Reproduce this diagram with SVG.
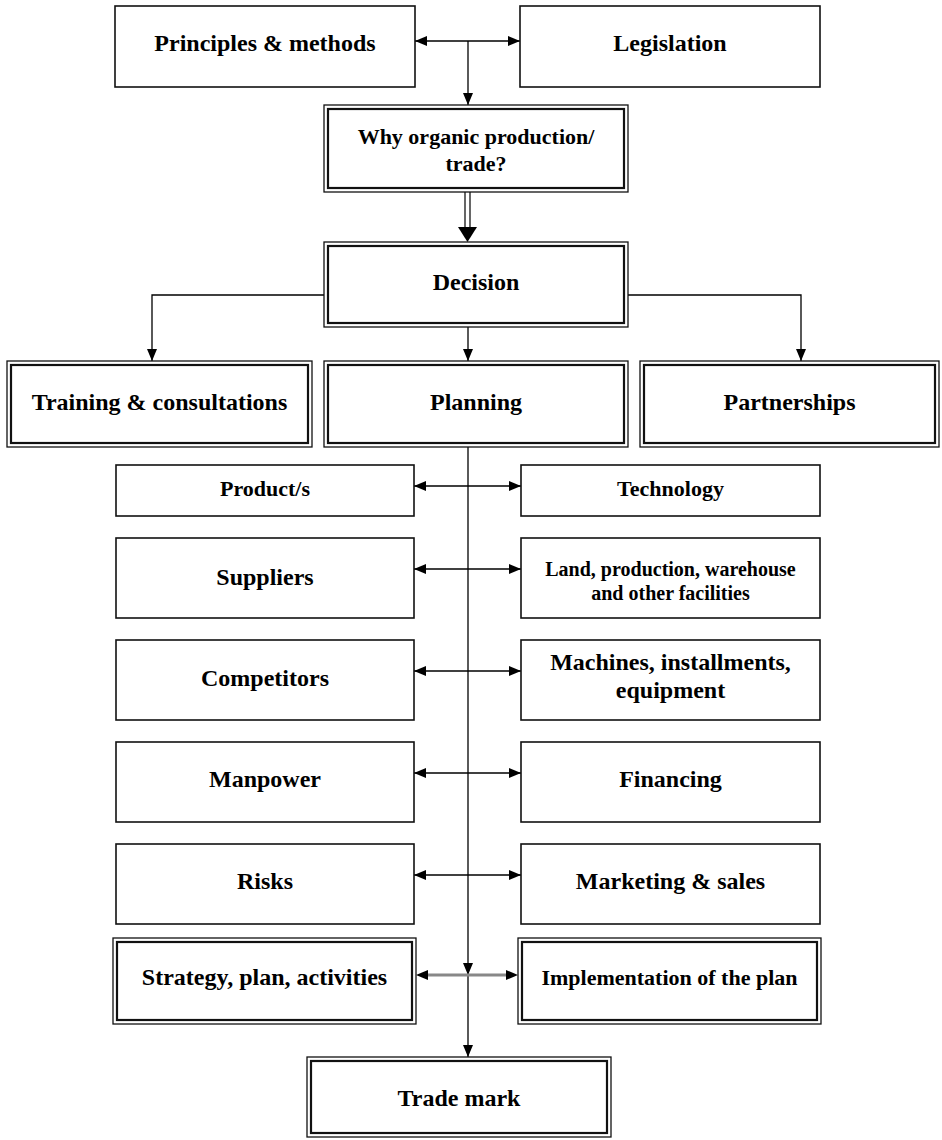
<svg xmlns="http://www.w3.org/2000/svg" width="942" height="1140" viewBox="0 0 942 1140">
<style>
  .box{fill:#fff;stroke:#111;stroke-width:1.6}
  .outer{fill:#fff;stroke:#111;stroke-width:1.3}
  .inner{fill:none;stroke:#111;stroke-width:2.2}
  .t{font-family:"Liberation Serif","Times New Roman",serif;font-weight:bold;text-anchor:middle;fill:#000}
  .l{font-size:24px}
  .m{font-size:22px}
  .s{font-size:20px}
  .c{fill:none;stroke:#000;stroke-width:1.3}
  .c2{fill:none;stroke:#000;stroke-width:1.3;marker-end:url(#ah)}
  .bi{fill:none;stroke:#000;stroke-width:1.3;marker-start:url(#ah);marker-end:url(#ah)}
</style>
<defs>
  <marker id="ah" markerUnits="userSpaceOnUse" markerWidth="12" markerHeight="10" refX="12" refY="5" orient="auto-start-reverse">
    <path d="M0,0 L12,5 L0,10 z" fill="#000"/>
  </marker>
</defs>
<rect width="942" height="1140" fill="#fff"/>

<g id="connectors">
  <path class="bi" d="M415,41 H520"/>
  <path class="c2" d="M468,41 V105"/>
  <line x1="465" y1="192" x2="465" y2="228" stroke="#000" stroke-width="1.2"/>
  <line x1="470" y1="192" x2="470" y2="228" stroke="#000" stroke-width="1.2"/>
  <polygon points="458,227 477,227 467.5,242" fill="#000"/>
  <path class="c2" d="M324,295 H152 V361"/>
  <path class="c2" d="M628,295 H801 V361"/>
  <path class="c2" d="M468,327 V361"/>
  <path class="c2" d="M468,447 V975"/>
  <path class="c2" d="M468,975 V1057"/>
  <path class="bi" d="M414,486 H521"/>
  <path class="bi" d="M414,569 H521"/>
  <path class="bi" d="M414,671 H521"/>
  <path class="bi" d="M414,773 H521"/>
  <path class="bi" d="M414,875 H521"/>
  <line x1="426" y1="975" x2="508" y2="975" stroke="#888" stroke-width="3"/>
  <polygon points="416,975 428,970 428,980" fill="#000"/>
  <polygon points="518,975 506,970 506,980" fill="#000"/>
</g>

<g id="principles">
  <rect class="box" x="115" y="6" width="300" height="81"/>
  <text class="t l" x="265" y="51">Principles &amp; methods</text>
</g>
<g id="legislation">
  <rect class="box" x="520" y="6" width="300" height="81"/>
  <text class="t l" x="670" y="51">Legislation</text>
</g>
<g id="why">
  <rect class="outer" x="324" y="105" width="304" height="87"/>
  <rect class="inner" x="328" y="109" width="296" height="79"/>
  <text class="t m" x="476" y="144">Why organic production/</text>
  <text class="t m" x="476" y="171">trade?</text>
</g>
<g id="decision">
  <rect class="outer" x="324" y="242" width="304" height="85"/>
  <rect class="inner" x="328" y="246" width="296" height="77"/>
  <text class="t l" x="476" y="290">Decision</text>
</g>
<g id="training">
  <rect class="outer" x="7" y="361" width="305" height="86"/>
  <rect class="inner" x="11" y="365" width="297" height="78"/>
  <text class="t l" x="159.5" y="410">Training &amp; consultations</text>
</g>
<g id="planning">
  <rect class="outer" x="324" y="361" width="304" height="86"/>
  <rect class="inner" x="328" y="365" width="296" height="78"/>
  <text class="t l" x="476" y="410">Planning</text>
</g>
<g id="partnerships">
  <rect class="outer" x="640" y="361" width="299" height="86"/>
  <rect class="inner" x="644" y="365" width="291" height="78"/>
  <text class="t l" x="789.5" y="410">Partnerships</text>
</g>
<g id="product">
  <rect class="box" x="116" y="465" width="298" height="51"/>
  <text class="t m" x="265" y="496">Product/s</text>
</g>
<g id="technology">
  <rect class="box" x="521" y="465" width="299" height="51"/>
  <text class="t m" x="670.5" y="496">Technology</text>
</g>
<g id="suppliers">
  <rect class="box" x="116" y="538" width="298" height="80"/>
  <text class="t l" x="265" y="585">Suppliers</text>
</g>
<g id="land">
  <rect class="box" x="521" y="538" width="299" height="80"/>
  <text class="t s" x="670.5" y="576">Land, production, warehouse</text>
  <text class="t s" x="670.5" y="600">and other facilities</text>
</g>
<g id="competitors">
  <rect class="box" x="116" y="640" width="298" height="80"/>
  <text class="t l" x="265" y="686">Competitors</text>
</g>
<g id="machines">
  <rect class="box" x="521" y="640" width="299" height="80"/>
  <text class="t l" x="670.5" y="670">Machines, installments,</text>
  <text class="t l" x="670.5" y="698">equipment</text>
</g>
<g id="manpower">
  <rect class="box" x="116" y="742" width="298" height="80"/>
  <text class="t l" x="265" y="787">Manpower</text>
</g>
<g id="financing">
  <rect class="box" x="521" y="742" width="299" height="80"/>
  <text class="t l" x="670.5" y="787">Financing</text>
</g>
<g id="risks">
  <rect class="box" x="116" y="844" width="298" height="80"/>
  <text class="t l" x="265" y="889">Risks</text>
</g>
<g id="marketing">
  <rect class="box" x="521" y="844" width="299" height="80"/>
  <text class="t l" x="670.5" y="889">Marketing &amp; sales</text>
</g>
<g id="strategy">
  <rect class="outer" x="113" y="938" width="303" height="86"/>
  <rect class="inner" x="117" y="942" width="295" height="78"/>
  <text class="t l" x="264.5" y="985">Strategy, plan, activities</text>
</g>
<g id="implementation">
  <rect class="outer" x="518" y="938" width="303" height="86"/>
  <rect class="inner" x="522" y="942" width="295" height="78"/>
  <text class="t m" x="669.5" y="985">Implementation of the plan</text>
</g>
<g id="trademark">
  <rect class="outer" x="307" y="1057" width="304" height="80"/>
  <rect class="inner" x="311" y="1061" width="296" height="72"/>
  <text class="t l" x="459" y="1106">Trade mark</text>
</g>
</svg>
